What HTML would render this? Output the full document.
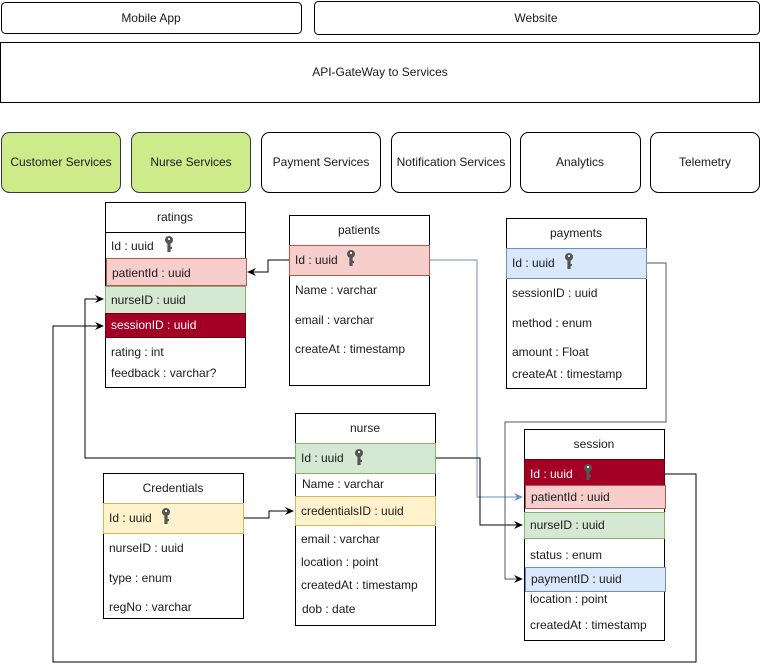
<!DOCTYPE html>
<html><head><meta charset="utf-8"><style>
html,body{margin:0;padding:0;background:#fff;}
svg{display:block;}
text{font-family:"Liberation Sans",sans-serif;font-size:12px;fill:#1a1a1a;}
</style></head><body>
<svg width="761" height="671" viewBox="0 0 761 671" xmlns="http://www.w3.org/2000/svg">
<defs>
<marker id="ab" markerWidth="10" markerHeight="10" refX="8" refY="5" orient="auto" markerUnits="userSpaceOnUse"><path d="M0,1 L9,5 L0,9 L3,5 Z" fill="#000"/></marker>
<marker id="abl" markerWidth="10" markerHeight="10" refX="8" refY="5" orient="auto" markerUnits="userSpaceOnUse"><path d="M0,1 L9,5 L0,9 L3,5 Z" fill="#6c8ebf"/></marker>
<g id="key"><circle cx="0" cy="-3" r="4" fill="#555"/><rect x="-1.6" y="-1" width="3.2" height="10" fill="#555"/><rect x="1" y="4" width="2" height="2" fill="#555"/><circle cx="0" cy="-4" r="1.1" fill="#fff"/></g>
</defs>

<rect x="1.5" y="2.5" width="300" height="31" rx="4" fill="#fff" stroke="#000"/>
<text x="151" y="22" text-anchor="middle">Mobile App</text>
<rect x="314.5" y="1.5" width="445" height="33" rx="4" fill="#fff" stroke="#000"/>
<text x="536" y="22" text-anchor="middle">Website</text>
<rect x="0.5" y="42.5" width="759" height="60" fill="#fff" stroke="#000"/>
<text x="380" y="76" text-anchor="middle">API-GateWay to Services</text>

<rect x="1.5" y="132.5" width="119" height="60" rx="8" fill="#cdeb8b" stroke="#36393d"/>
<text x="61" y="166" text-anchor="middle">Customer Services</text>
<rect x="131.5" y="132.5" width="119" height="60" rx="8" fill="#cdeb8b" stroke="#36393d"/>
<text x="191" y="166" text-anchor="middle">Nurse Services</text>
<rect x="261.5" y="132.5" width="119" height="60" rx="8" fill="#fff" stroke="#000"/>
<text x="321" y="166" text-anchor="middle">Payment Services</text>
<rect x="391.5" y="132.5" width="119" height="60" rx="8" fill="#fff" stroke="#000"/>
<text x="451" y="166" text-anchor="middle">Notification Services</text>
<rect x="520.5" y="132.5" width="120" height="60" rx="8" fill="#fff" stroke="#000"/>
<text x="580" y="166" text-anchor="middle">Analytics</text>
<rect x="650.5" y="132.5" width="109" height="60" rx="8" fill="#fff" stroke="#000"/>
<text x="705" y="166" text-anchor="middle">Telemetry</text>

<polyline points="429,260 477,260 477,497 522,497" fill="none" stroke="#6c8ebf" stroke-width="1" marker-end="url(#abl)"/>
<polyline points="289,260 268,260 268,272 248,272" fill="none" stroke="#000" marker-end="url(#ab)"/>
<polyline points="435,458 480,458 480,525 522,525" fill="none" stroke="#000" marker-end="url(#ab)"/>
<polyline points="295,458 85,458 85,299 103,299" fill="none" stroke="#000" marker-end="url(#ab)"/>
<polyline points="664,474 696,474 696,662 53,662 53,326 103,326" fill="none" stroke="#000" marker-end="url(#ab)"/>
<polyline points="646,263 666,263 666,422 505,422 505,579 522,579" fill="none" stroke="#555" marker-end="url(#ab)"/>
<polyline points="243,518 269,518 269,511 293,511" fill="none" stroke="#000" marker-end="url(#ab)"/>

<rect x="105.5" y="202.5" width="140" height="185" fill="#fff" stroke="#000"/>
<line x1="105" y1="232.5" x2="246" y2="232.5" stroke="#000"/>
<text x="175" y="221" text-anchor="middle">ratings</text>
<text x="111" y="250">Id : uuid</text><use href="#key" x="169" y="243"/>
<rect x="106.5" y="258.5" width="140" height="27" fill="#f8cecc" stroke="#b85450"/>
<text x="112" y="277">patientId : uuid</text>
<rect x="105.5" y="286.5" width="140" height="27" fill="#d5e8d4" stroke="#82b366"/>
<text x="111" y="304">nurseID : uuid</text>
<rect x="105.5" y="313.5" width="140" height="24" fill="#a20025" stroke="#6f0000"/>
<text x="111" y="329" style="fill:#fff">sessionID : uuid</text>
<text x="111" y="356">rating : int</text>
<text x="111" y="377">feedback : varchar?</text>

<rect x="289.5" y="215.5" width="140" height="170" fill="#fff" stroke="#000"/>
<line x1="289" y1="245.5" x2="430" y2="245.5" stroke="#000"/>
<text x="359" y="234" text-anchor="middle">patients</text>
<rect x="289.5" y="245.5" width="140" height="30" fill="#f8cecc" stroke="#b85450"/>
<text x="295" y="264">Id : uuid</text><use href="#key" x="351" y="257"/>
<text x="295" y="294">Name : varchar</text>
<text x="295" y="324">email : varchar</text>
<text x="295" y="353">createAt : timestamp</text>

<rect x="506.5" y="218.5" width="140" height="170" fill="#fff" stroke="#000"/>
<text x="576" y="237" text-anchor="middle">payments</text>
<rect x="506.5" y="248.5" width="140" height="30" fill="#dae8fc" stroke="#6c8ebf"/>
<text x="512" y="267">Id : uuid</text><use href="#key" x="569" y="260"/>
<text x="512" y="297">sessionID : uuid</text>
<text x="512" y="327">method : enum</text>
<text x="512" y="356">amount : Float</text>
<text x="512" y="378">createAt : timestamp</text>

<rect x="295.5" y="413.5" width="140" height="212" fill="#fff" stroke="#000"/>
<text x="365" y="432" text-anchor="middle">nurse</text>
<rect x="295.5" y="443.5" width="140" height="30" fill="#d5e8d4" stroke="#82b366"/>
<text x="301" y="462">Id : uuid</text><use href="#key" x="359" y="456"/>
<text x="302" y="488">Name : varchar</text>
<rect x="295.5" y="496.5" width="140" height="29" fill="#fff2cc" stroke="#d6b656"/>
<text x="301" y="515">credentialsID : uuid</text>
<text x="301" y="543">email : varchar</text>
<text x="301" y="566">location : point</text>
<text x="301" y="589">createdAt : timestamp</text>
<text x="302" y="613">dob : date</text>

<rect x="103.5" y="473.5" width="140" height="145" fill="#fff" stroke="#000"/>
<text x="173" y="492" text-anchor="middle">Credentials</text>
<rect x="103.5" y="503.5" width="140" height="30" fill="#fff2cc" stroke="#d6b656"/>
<text x="109" y="522">Id : uuid</text><use href="#key" x="166" y="515"/>
<text x="109" y="552">nurseID : uuid</text>
<text x="109" y="582">type : enum</text>
<text x="109" y="611">regNo : varchar</text>

<rect x="524.5" y="429.5" width="140" height="211" fill="#fff" stroke="#000"/>
<text x="594" y="448" text-anchor="middle">session</text>
<rect x="524.5" y="459.5" width="140" height="26" fill="#a20025" stroke="#6f0000"/>
<text x="530" y="478" style="fill:#fff">Id : uuid</text><use href="#key" x="588" y="471"/>
<rect x="525.5" y="485.5" width="140" height="23" fill="#f8cecc" stroke="#b85450"/>
<text x="531" y="501">patientId : uuid</text>
<rect x="524.5" y="512.5" width="140" height="26" fill="#d5e8d4" stroke="#82b366"/>
<text x="530" y="529">nurseID : uuid</text>
<text x="530" y="559">status : enum</text>
<rect x="525.5" y="567.5" width="140" height="24" fill="#dae8fc" stroke="#6c8ebf"/>
<text x="531" y="583">paymentID : uuid</text>
<text x="530" y="603">location : point</text>
<text x="530" y="629">createdAt : timestamp</text>
</svg>
</body></html>
